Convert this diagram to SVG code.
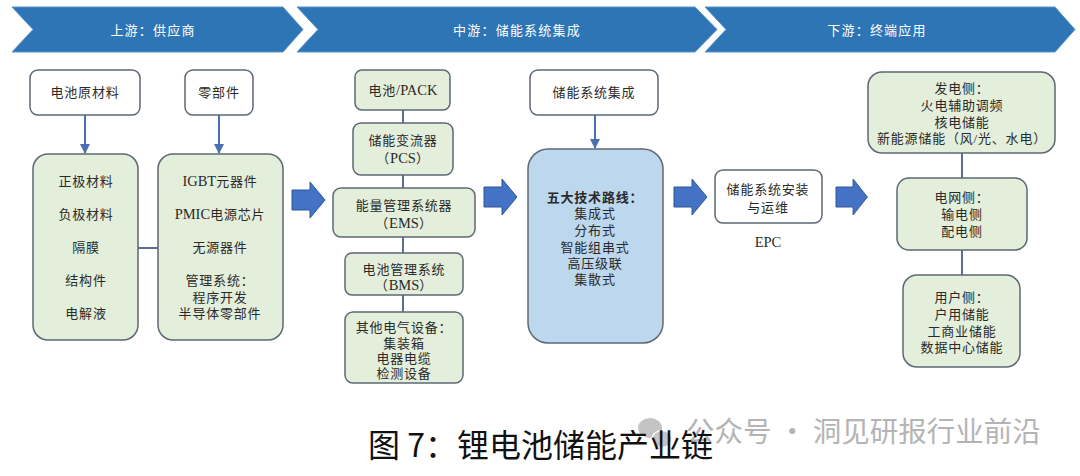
<svg xmlns="http://www.w3.org/2000/svg" width="1080" height="476" viewBox="0 0 1080 476">
<style>
.banner{fill:#2e75b6;stroke:#5b93c9;stroke-width:1}
.bt{font-family:"Liberation Serif","Noto Sans CJK SC",serif;font-size:13px;fill:#fff;text-anchor:middle;letter-spacing:1.2px}
.wbox{fill:#fff;stroke:#5d6875;stroke-width:1.5}
.gbox{fill:#e3eedb;stroke:#5d6875;stroke-width:1.5}
.bbox{fill:#bdd7ee;stroke:#5d6875;stroke-width:1.5}
.t{font-family:"Liberation Serif","Noto Sans CJK SC",serif;font-size:13px;fill:#2a2a2a;text-anchor:middle;letter-spacing:0.8px}
.la{font-size:14.5px;letter-spacing:0}
.tb{font-weight:bold}
.ln{stroke:#5a6e98;stroke-width:2;fill:none}
.arr{stroke:#4a6fb5;stroke-width:2;fill:none;marker-end:url(#ah)}
.big{fill:#4472c4;stroke:#2f5597;stroke-width:1}
.cap{font-family:"Noto Sans CJK SC",sans-serif;font-size:32px;fill:#111}
.wm{font-family:"Noto Sans CJK SC",sans-serif;font-size:28.5px;fill:#b4b4b4}
</style>
<defs>
<marker id="ah" viewBox="0 0 10 10" refX="9" refY="5" markerWidth="5" markerHeight="5" orient="auto" markerUnits="strokeWidth">
<path d="M0,0 L10,5 L0,10 Z" fill="#4a6fb5"/>
</marker>
<path id="bigArrow" d="M0,-10 H18 V-18 L33,0 L18,18 V10 H0 Z"/>
</defs>

<g id="banners">
<g id="banner-up">
<polygon class="banner" points="12,7 283,7 303,29.5 283,52 12,52 33,29.5"/>
<text class="bt" x="153" y="34.5">上游：供应商</text>
</g>
<g id="banner-mid">
<polygon class="banner" points="297,7 695,7 717,29.5 695,52 297,52 318,29.5"/>
<text class="bt" x="517" y="34.5">中游：储能系统集成</text>
</g>
<g id="banner-down">
<polygon class="banner" points="705,7 1055,7 1075,29.5 1055,52 705,52 726,29.5"/>
<text class="bt" x="877" y="34.5">下游：终端应用</text>
</g>
</g>

<g id="connectors">
<line class="arr" x1="85" y1="115" x2="85" y2="153"/>
<line class="arr" x1="219" y1="115" x2="219" y2="153"/>
<line class="ln" x1="138" y1="248" x2="158" y2="248"/>
<line class="ln" x1="403" y1="110" x2="403" y2="123"/>
<line class="ln" x1="403" y1="175" x2="403" y2="188"/>
<line class="ln" x1="403" y1="237" x2="403" y2="253"/>
<line class="ln" x1="403" y1="295" x2="403" y2="312"/>
<line class="arr" x1="595" y1="115" x2="595" y2="148"/>
<line class="ln" x1="962" y1="153" x2="962" y2="178"/>
<line class="ln" x1="962" y1="250" x2="962" y2="275"/>
<use href="#bigArrow" class="big" transform="translate(292,200)"/>
<use href="#bigArrow" class="big" transform="translate(484,197)"/>
<use href="#bigArrow" class="big" transform="translate(674,197)"/>
<use href="#bigArrow" class="big" transform="translate(836,197) scale(0.95,1)"/>
</g>

<g id="n-raw">
<rect class="wbox" x="30" y="70" width="110" height="45" rx="8"/>
<text class="t" x="85" y="97">电池原材料</text>
</g>
<g id="n-parts">
<rect class="wbox" x="185" y="70" width="68" height="45" rx="8"/>
<text class="t" x="219" y="97">零部件</text>
</g>
<g id="n-materials">
<rect class="gbox" x="33" y="154" width="105" height="186" rx="15"/>
<text class="t" x="86" y="186">正极材料</text>
<text class="t" x="86" y="219">负极材料</text>
<text class="t" x="86" y="252">隔膜</text>
<text class="t" x="86" y="285">结构件</text>
<text class="t" x="86" y="318">电解液</text>
</g>
<g id="n-components">
<rect class="gbox" x="158" y="154" width="125" height="186" rx="15"/>
<text class="t" x="220" y="186"><tspan class="la">IGBT</tspan>元器件</text>
<text class="t" x="220" y="219"><tspan class="la">PMIC</tspan>电源芯片</text>
<text class="t" x="220" y="252">无源器件</text>
<text class="t" x="220" y="285">管理系统：</text>
<text class="t" x="220" y="302">程序开发</text>
<text class="t" x="220" y="318">半导体零部件</text>
</g>

<g id="n-pack">
<rect class="gbox" x="355" y="70" width="95" height="40" rx="7"/>
<text class="t" x="403" y="95">电池<tspan class="la">/PACK</tspan></text>
</g>
<g id="n-pcs">
<rect class="gbox" x="353" y="123" width="100" height="52" rx="8"/>
<text class="t" x="403" y="145">储能变流器</text>
<text class="t" x="403" y="163">（<tspan class="la">PCS</tspan>）</text>
</g>
<g id="n-ems">
<rect class="gbox" x="333" y="188" width="142" height="49" rx="8"/>
<text class="t" x="404" y="210">能量管理系统器</text>
<text class="t" x="404" y="228">（<tspan class="la">EMS</tspan>）</text>
</g>
<g id="n-bms">
<rect class="gbox" x="345" y="253" width="118" height="42" rx="7"/>
<text class="t" x="404" y="274">电池管理系统</text>
<text class="t" x="404" y="290">（<tspan class="la">BMS</tspan>）</text>
</g>
<g id="n-other">
<rect class="gbox" x="345" y="312" width="118" height="71" rx="8"/>
<text class="t" x="404" y="332">其他电气设备：</text>
<text class="t" x="404" y="348">集装箱</text>
<text class="t" x="404" y="363">电器电缆</text>
<text class="t" x="404" y="378">检测设备</text>
</g>

<g id="n-sysint">
<rect class="wbox" x="530" y="70" width="128" height="45" rx="8"/>
<text class="t" x="594" y="97">储能系统集成</text>
</g>
<g id="n-routes">
<rect class="bbox" x="528" y="149" width="135" height="194" rx="20"/>
<text class="t tb" x="595" y="202">五大技术路线：</text>
<text class="t" x="595" y="218">集成式</text>
<text class="t" x="595" y="235">分布式</text>
<text class="t" x="595" y="252">智能组串式</text>
<text class="t" x="595" y="268">高压级联</text>
<text class="t" x="595" y="284">集散式</text>
</g>

<g id="n-install">
<rect class="wbox" x="715" y="170" width="107" height="53" rx="8"/>
<text class="t" x="768" y="194">储能系统安装</text>
<text class="t" x="768" y="212">与运维</text>
<text class="t la" x="768" y="247">EPC</text>
</g>

<g id="n-gen">
<rect class="gbox" x="868" y="72" width="187" height="81" rx="14"/>
<text class="t" x="962" y="93">发电侧：</text>
<text class="t" x="962" y="110">火电辅助调频</text>
<text class="t" x="962" y="127">核电储能</text>
<text class="t" x="962" y="143">新能源储能（风/光、水电）</text>
</g>
<g id="n-grid">
<rect class="gbox" x="897" y="178" width="130" height="72" rx="12"/>
<text class="t" x="962" y="202">电网侧：</text>
<text class="t" x="962" y="219">输电侧</text>
<text class="t" x="962" y="236">配电侧</text>
</g>
<g id="n-user">
<rect class="gbox" x="903" y="275" width="117" height="92" rx="14"/>
<text class="t" x="962" y="302">用户侧：</text>
<text class="t" x="962" y="319">户用储能</text>
<text class="t" x="962" y="336">工商业储能</text>
<text class="t" x="962" y="352">数据中心储能</text>
</g>

<g id="watermark">
<ellipse cx="650" cy="428" rx="12" ry="10" fill="#c4c4c4"/>
<ellipse cx="662" cy="439" rx="10" ry="8.5" fill="#c4c4c4" stroke="#fff" stroke-width="1.5"/>
<text class="wm" x="686" y="442">公众号 · 洞见研报行业前沿</text>
</g>
<text class="cap" x="368" y="457">图 7：锂电池储能产业链</text>
</svg>
